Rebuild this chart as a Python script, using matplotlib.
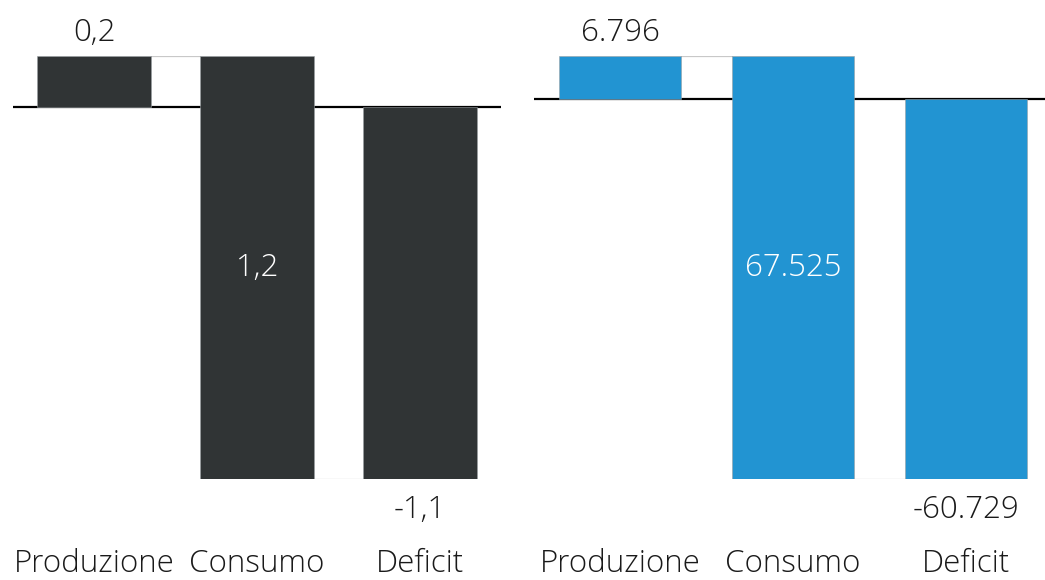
import matplotlib
matplotlib.use("Agg")
import matplotlib.pyplot as plt
from decimal import Decimal, ROUND_HALF_UP

# Produzione / Consumo / Deficit, due unità di misura
categorie = ["Produzione", "Consumo", "Deficit"]
valori_sx = [0.15, 1.24, -1.09]
valori_dx = [6796, 67525, -60729]

colore_sx = "#303435"
colore_dx = "#2294d2"
grigio = "#c8c8c8"

plt.rcParams["font.family"] = ["Open Sans", "DejaVu Sans"]
FS = 22.5


def fmt_virgola(v):
    d = Decimal(str(v)).quantize(Decimal("0.1"), rounding=ROUND_HALF_UP)
    return str(d).replace(".", ",")


def fmt_migliaia(v):
    return "{:,.0f}".format(v).replace(",", ".")


def cascata(ax, valori, colore, fmt, larghezza):
    prod, cons, defi = valori
    fondo = prod - cons
    ax.axhline(0, color="black", lw=1.6, zorder=1)
    ax.bar(0, prod, width=larghezza, color=colore, edgecolor="#9aa0a3", lw=0.4, zorder=2)
    ax.bar(1, -cons, bottom=prod, width=larghezza, color=colore, edgecolor="#9aa0a3", lw=0.4, zorder=2)
    ax.bar(2, defi, width=larghezza, color=colore, edgecolor="#9aa0a3", lw=0.4, zorder=2)
    # linee di collegamento tra le barre
    h = larghezza / 2
    ax.plot([h, 1 - h], [prod, prod], color=grigio, lw=0.9, zorder=1)
    ax.plot([1 + h, 2 - h], [fondo, fondo], color=grigio, lw=0.9, zorder=1)
    ax.annotate(fmt(prod), (0, prod), xytext=(0, 5), textcoords="offset points",
                ha="center", va="bottom", fontsize=FS, fontweight="light", color="#1a1a1a")
    ax.text(1, (prod + fondo) / 2, fmt(cons), ha="center", va="center",
            fontsize=FS, fontweight="light", color="white")
    ax.annotate(fmt(defi), (2, defi), xytext=(0, -11), textcoords="offset points",
                ha="center", va="top", fontsize=FS, fontweight="light", color="#1a1a1a")
    ax.set_xlim(-0.5, 2.5)
    ax.set_ylim(fondo, prod)
    ax.set_xticks(range(3))
    ax.set_xticklabels(categorie, fontsize=FS, fontweight="light", color="#1a1a1a")
    ax.tick_params(axis="x", length=0, pad=50)
    ax.set_yticks([])
    for s in ax.spines.values():
        s.set_visible(False)
    ax.patch.set_alpha(0)


W, H = 1045, 580
fig = plt.figure(figsize=(W / 100, H / 100), dpi=100)
top, bottom = 56, 479
ax1 = fig.add_axes([13 / W, 1 - bottom / H, 488 / W, (bottom - top) / H])
ax2 = fig.add_axes([534 / W, 1 - bottom / H, 518 / W, (bottom - top) / H])

cascata(ax1, valori_sx, colore_sx, fmt_virgola, 0.70)
cascata(ax2, valori_dx, colore_dx, fmt_migliaia, 0.706)

fig.savefig("out.png", dpi=100)
